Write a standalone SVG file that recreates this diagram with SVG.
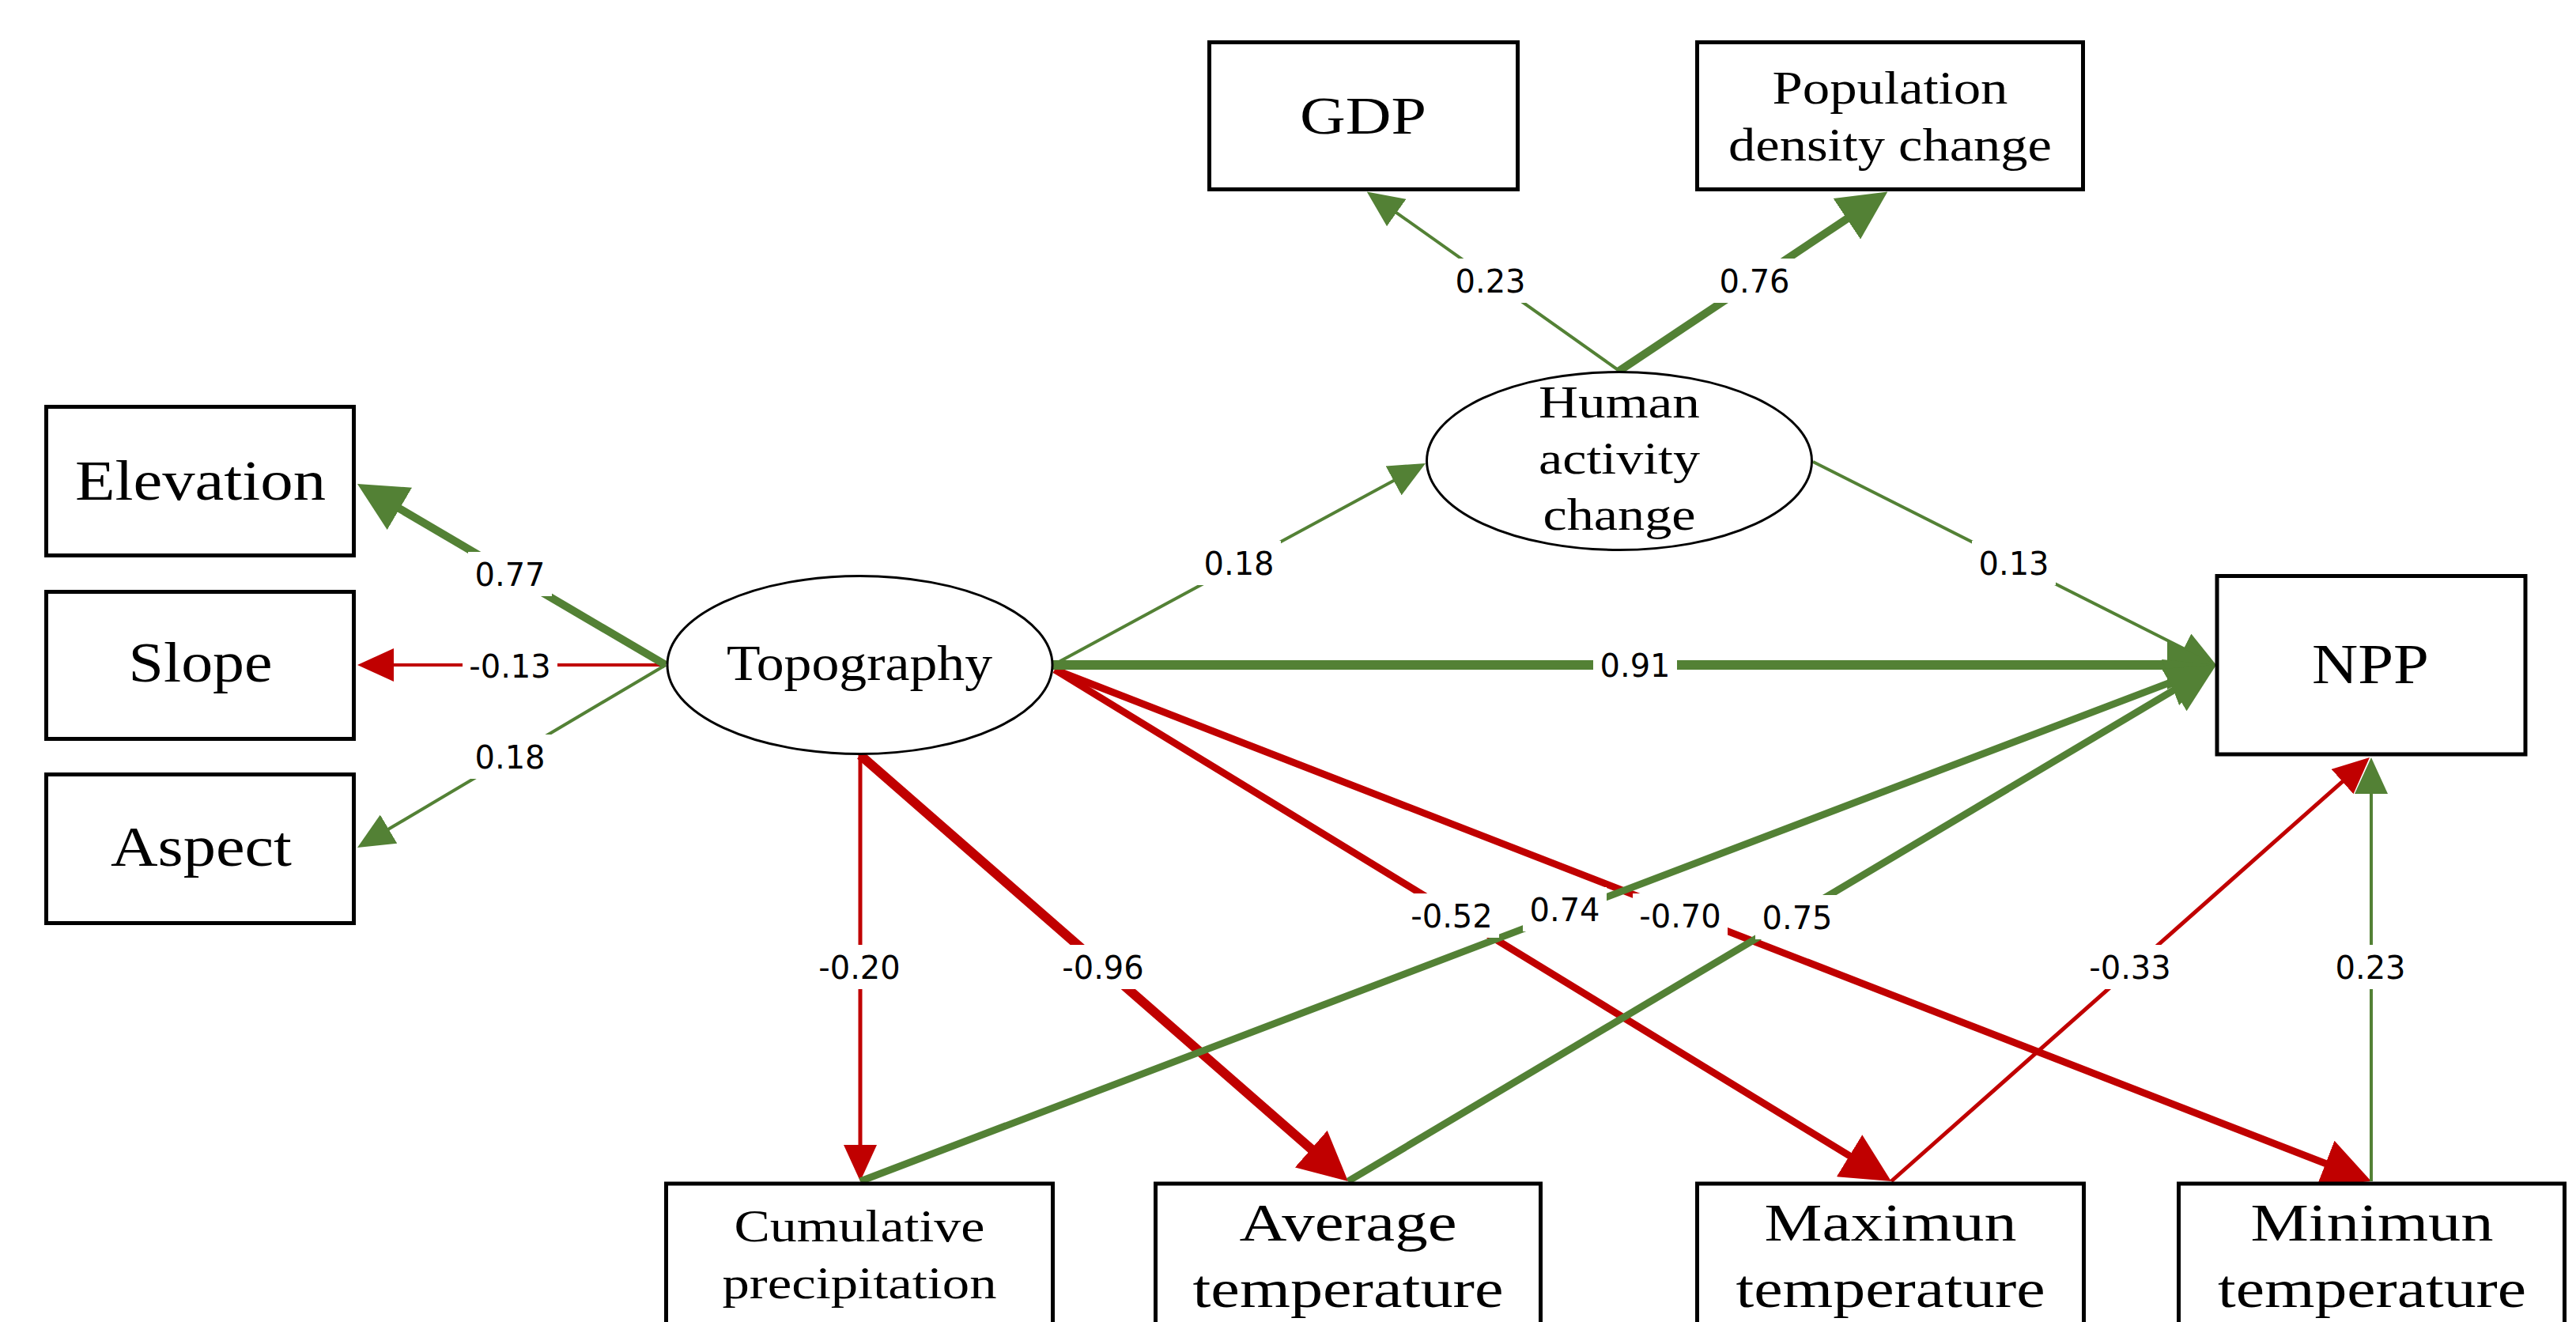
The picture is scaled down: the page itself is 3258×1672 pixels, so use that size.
<svg xmlns="http://www.w3.org/2000/svg" width="3258" height="1672" viewBox="0 0 3258 1672">
<style>
.box{fill:#fff;stroke:#000;stroke-width:5}
.ell{fill:#fff;stroke:#000;stroke-width:3}
.nt{font-family:"Liberation Serif","Times New Roman",serif;fill:#000;text-anchor:middle}
.lb{font-family:"DejaVu Sans",sans-serif;font-size:40px;fill:#000;text-anchor:middle}
.bg{fill:#fff}
.g{stroke:#538135;fill:none}
.r{stroke:#C00000;fill:none}
</style>
<defs>
<marker id="gS" markerUnits="userSpaceOnUse" markerWidth="46" markerHeight="42" viewBox="0 0 46 42" refX="26" refY="21" orient="auto"><path d="M0,0 L46,21 L0,42 Z" fill="#538135"/></marker>
<marker id="gL" markerUnits="userSpaceOnUse" markerWidth="62" markerHeight="62" viewBox="0 0 62 62" refX="42" refY="31" orient="auto"><path d="M0,0 L62,31 L0,62 Z" fill="#538135"/></marker>
<marker id="rS" markerUnits="userSpaceOnUse" markerWidth="46" markerHeight="42" viewBox="0 0 46 42" refX="26" refY="21" orient="auto"><path d="M0,0 L46,21 L0,42 Z" fill="#C00000"/></marker>
<marker id="rL" markerUnits="userSpaceOnUse" markerWidth="62" markerHeight="62" viewBox="0 0 62 62" refX="42" refY="31" orient="auto"><path d="M0,0 L62,31 L0,62 Z" fill="#C00000"/></marker>
</defs>
<rect x="0" y="0" width="3258" height="1672" fill="#fff"/>
<g id="connectors">
<line class="r" stroke-width="4" x1="842" y1="841" x2="472" y2="841" marker-end="url(#rS)"/>
<line class="r" stroke-width="5" x1="1088" y1="955" x2="1088" y2="1474" marker-end="url(#rS)"/>
<line class="r" stroke-width="12" x1="1088" y1="955" x2="1689.9" y2="1480.8" marker-end="url(#rL)"/>
<line class="r" stroke-width="9" x1="1334" y1="847" x2="2374.9" y2="1483.6" marker-end="url(#rL)"/>
<line class="r" stroke-width="9" x1="1334" y1="847" x2="2980.4" y2="1486.8" marker-end="url(#rL)"/>
<line class="r" stroke-width="5" x1="2392" y1="1494" x2="2982" y2="971.3" marker-end="url(#rS)"/>
<line class="g" stroke-width="10" x1="842" y1="841" x2="469.2" y2="622.1" marker-end="url(#gL)"/>
<line class="g" stroke-width="4" x1="842" y1="841" x2="469.2" y2="1061.8" marker-end="url(#gS)"/>
<line class="g" stroke-width="4" x1="1332" y1="841" x2="1785.4" y2="595.5" marker-end="url(#gS)"/>
<line class="g" stroke-width="4" x1="2048" y1="469" x2="1745" y2="254" marker-end="url(#gS)"/>
<line class="g" stroke-width="10" x1="2048" y1="469" x2="2370.7" y2="253.5" marker-end="url(#gL)"/>
<line class="g" stroke-width="4" x1="2293" y1="584" x2="2785.1" y2="832" marker-end="url(#gS)"/>
<line class="g" stroke-width="12" x1="1332" y1="841" x2="2783" y2="841" marker-end="url(#gL)"/>
<line class="g" stroke-width="9" x1="1088" y1="1494" x2="2784.3" y2="848.1" marker-end="url(#gL)"/>
<line class="g" stroke-width="9" x1="1705" y1="1494" x2="2785.8" y2="851.2" marker-end="url(#gL)"/>
<line class="g" stroke-width="4" x1="2999" y1="1494" x2="2999" y2="978" marker-end="url(#gS)"/>
</g>
<g id="elevation"><rect class="box" x="58.5" y="514.5" width="389" height="188"/><text class="nt" x="253.5" y="632" font-size="72" textLength="317" lengthAdjust="spacingAndGlyphs">Elevation</text></g>
<g id="slope"><rect class="box" x="58.5" y="748.5" width="389" height="186"/><text class="nt" x="253.5" y="862" font-size="72" textLength="182" lengthAdjust="spacingAndGlyphs">Slope</text></g>
<g id="aspect"><rect class="box" x="58.5" y="979.5" width="389" height="188"/><text class="nt" x="254.5" y="1095" font-size="72" textLength="229" lengthAdjust="spacingAndGlyphs">Aspect</text></g>
<g id="topography"><ellipse class="ell" cx="1087.5" cy="841" rx="243.5" ry="112.5"/><text class="nt" x="1087" y="860" font-size="64" textLength="336" lengthAdjust="spacingAndGlyphs">Topography</text></g>
<g id="human"><ellipse class="ell" cx="2048" cy="583" rx="243.5" ry="112.5"/><text class="nt" x="2048" y="527.5" font-size="58" textLength="204" lengthAdjust="spacingAndGlyphs">Human</text><text class="nt" x="2048" y="599" font-size="58" textLength="204" lengthAdjust="spacingAndGlyphs">activity</text><text class="nt" x="2048" y="670" font-size="58" textLength="193" lengthAdjust="spacingAndGlyphs">change</text></g>
<g id="gdp"><rect class="box" x="1529.5" y="53.5" width="390" height="186"/><text class="nt" x="1724" y="169" font-size="68" textLength="160" lengthAdjust="spacingAndGlyphs">GDP</text></g>
<g id="population"><rect class="box" x="2146.5" y="53.5" width="488" height="186"/><text class="nt" x="2390.5" y="131" font-size="60" textLength="298" lengthAdjust="spacingAndGlyphs">Population</text><text class="nt" x="2390.5" y="203" font-size="60" textLength="409" lengthAdjust="spacingAndGlyphs">density change</text></g>
<g id="npp"><rect class="box" x="2804" y="728.5" width="390" height="225.5"/><text class="nt" x="2998" y="864" font-size="72" textLength="148" lengthAdjust="spacingAndGlyphs">NPP</text></g>
<g id="cumulative"><rect class="box" x="842.5" y="1497" width="489" height="300"/><text class="nt" x="1087" y="1570" font-size="57" textLength="317" lengthAdjust="spacingAndGlyphs">Cumulative</text><text class="nt" x="1087" y="1642" font-size="57" textLength="347" lengthAdjust="spacingAndGlyphs">precipitation</text></g>
<g id="average"><rect class="box" x="1461.5" y="1497" width="487" height="300"/><text class="nt" x="1705" y="1569" font-size="68" textLength="275" lengthAdjust="spacingAndGlyphs">Average</text><text class="nt" x="1705" y="1653" font-size="68" textLength="393" lengthAdjust="spacingAndGlyphs">temperature</text></g>
<g id="maximun"><rect class="box" x="2146.5" y="1497" width="489" height="300"/><text class="nt" x="2391" y="1569" font-size="68" textLength="319" lengthAdjust="spacingAndGlyphs">Maximun</text><text class="nt" x="2391" y="1653" font-size="68" textLength="391" lengthAdjust="spacingAndGlyphs">temperature</text></g>
<g id="minimun"><rect class="box" x="2755.5" y="1497" width="488" height="300"/><text class="nt" x="3000" y="1569" font-size="68" textLength="307" lengthAdjust="spacingAndGlyphs">Minimun</text><text class="nt" x="3000" y="1653" font-size="68" textLength="390" lengthAdjust="spacingAndGlyphs">temperature</text></g>
<g id="labels">
<rect class="bg" x="592" y="698" width="106" height="56"/><text class="lb" x="645" y="740.5">0.77</text>
<rect class="bg" x="585" y="814" width="120" height="56"/><text class="lb" x="645" y="856.5">-0.13</text>
<rect class="bg" x="592" y="929" width="106" height="56"/><text class="lb" x="645" y="971.5">0.18</text>
<rect class="bg" x="1514" y="684" width="106" height="56"/><text class="lb" x="1567" y="726.5">0.18</text>
<rect class="bg" x="1832" y="327" width="106" height="56"/><text class="lb" x="1885" y="369.5">0.23</text>
<rect class="bg" x="2166" y="327" width="106" height="56"/><text class="lb" x="2219" y="369.5">0.76</text>
<rect class="bg" x="2494" y="684" width="106" height="56"/><text class="lb" x="2547" y="726.5">0.13</text>
<rect class="bg" x="2015" y="813" width="106" height="56"/><text class="lb" x="2068" y="855.5">0.91</text>
<rect class="bg" x="1027" y="1195" width="120" height="56"/><text class="lb" x="1087" y="1237.5">-0.20</text>
<rect class="bg" x="1335" y="1195" width="120" height="56"/><text class="lb" x="1395" y="1237.5">-0.96</text>
<rect class="bg" x="1776" y="1130" width="120" height="56"/><text class="lb" x="1836" y="1172.5">-0.52</text>
<rect class="bg" x="1926" y="1122" width="106" height="56"/><text class="lb" x="1979" y="1164.5">0.74</text>
<rect class="bg" x="2065" y="1130" width="120" height="56"/><text class="lb" x="2125" y="1172.5">-0.70</text>
<rect class="bg" x="2220" y="1132" width="106" height="56"/><text class="lb" x="2273" y="1174.5">0.75</text>
<rect class="bg" x="2634" y="1195" width="120" height="56"/><text class="lb" x="2694" y="1237.5">-0.33</text>
<rect class="bg" x="2945" y="1195" width="106" height="56"/><text class="lb" x="2998" y="1237.5">0.23</text>
</g>
</svg>
